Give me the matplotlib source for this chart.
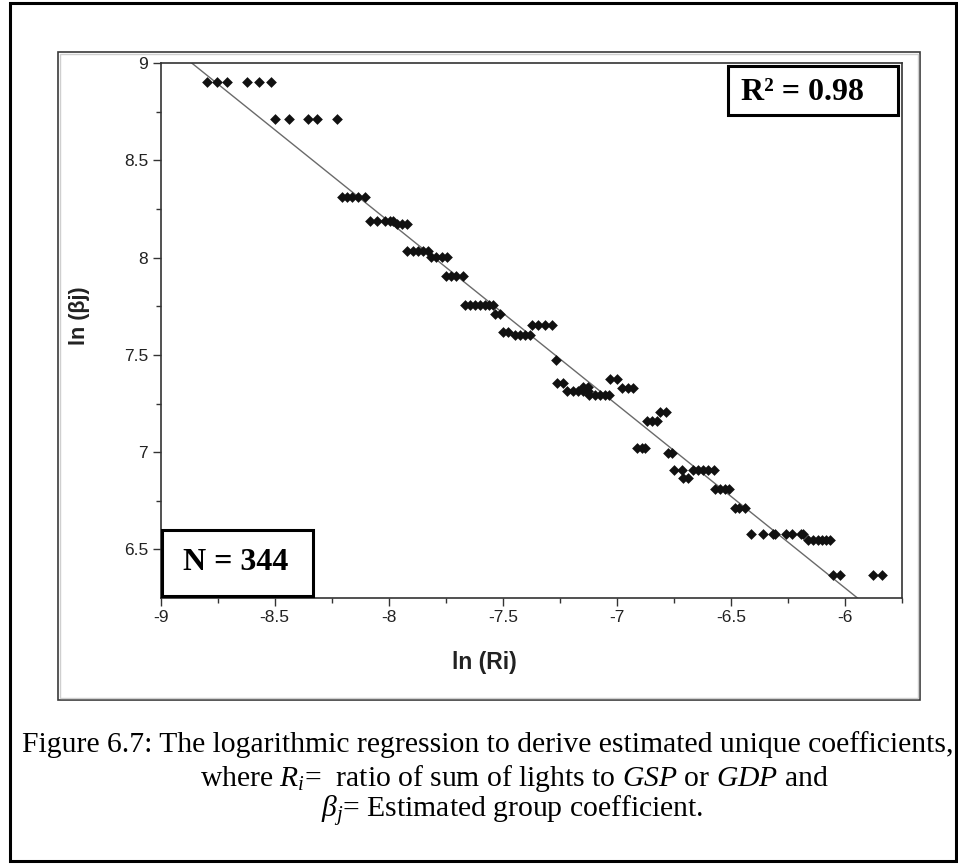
import matplotlib
matplotlib.use("Agg")
import matplotlib.pyplot as plt
from matplotlib.patches import Rectangle
from matplotlib.ticker import MultipleLocator, FuncFormatter

# ln(Ri) / ln(beta_j) points, grouped by beta level
ln_r = [
    -8.796, -8.755, -8.711, -8.623, -8.568, -8.516,          # 8.90
    -8.500, -8.436, -8.353, -8.316, -8.228,                  # 8.71
    -8.207, -8.185, -8.163, -8.134, -8.104,                  # 8.31
    -8.082, -8.053, -8.017, -7.995, -7.980,                  # 8.19
    -7.965, -7.943, -7.921,                                  # 8.175
    -7.919, -7.893, -7.871, -7.849, -7.827,                  # 8.03
    -7.816, -7.793, -7.768, -7.746,                          # 8.00
    -7.751, -7.729, -7.707, -7.673,                          # 7.91
    -7.666, -7.644, -7.622, -7.600, -7.580, -7.560, -7.545,  # 7.76
    -7.534, -7.512,                                          # 7.71
    -7.374, -7.345, -7.315, -7.283,                          # 7.66
    -7.501, -7.476,                                          # 7.62
    -7.447, -7.425, -7.403, -7.381,                          # 7.60
    -7.268,                                                  # 7.47
    -7.261, -7.235,                                          # 7.355
    -7.030, -7.001,                                          # 7.375
    -7.217, -7.191, -7.169, -7.147, -7.125,                  # 7.315
    -7.147, -7.128,                                          # 7.333
    -7.121, -7.096, -7.074, -7.052, -7.033,                  # 7.29
    -6.979, -6.950, -6.928,                                  # 7.33
    -6.810, -6.785,                                          # 7.205
    -6.869, -6.847, -6.825,                                  # 7.16
    -6.913, -6.891, -6.877,                                  # 7.02
    -6.775, -6.760,                                          # 6.995
    -6.750, -6.716, -6.668, -6.643, -6.621, -6.599, -6.573,  # 6.905
    -6.709, -6.687,                                          # 6.87
    -6.570, -6.548, -6.526, -6.507,                          # 6.81
    -6.482, -6.463, -6.438,                                  # 6.71
    -6.413, -6.358, -6.317, -6.307, -6.259, -6.234, -6.193, -6.183,  # 6.58
    -6.161, -6.139, -6.117, -6.102, -6.083, -6.066,          # 6.55
    -6.051, -6.022, -5.879, -5.839,                          # 6.37
]
ln_beta = (
    [8.904] * 6 + [8.712] * 5 + [8.312] * 5 + [8.187] * 5 + [8.175] * 3
    + [8.033] * 5 + [8.004] * 4 + [7.906] * 4 + [7.758] * 7 + [7.709] * 2
    + [7.656] * 4 + [7.618] * 2 + [7.601] * 4 + [7.472] + [7.355] * 2
    + [7.374] * 2 + [7.314] * 5 + [7.333] * 2 + [7.292] * 5 + [7.330] * 3
    + [7.205] * 2 + [7.158] * 3 + [7.021] * 3 + [6.995] * 2 + [6.906] * 7
    + [6.869] * 2 + [6.809] * 4 + [6.711] * 3 + [6.581] * 8 + [6.551] * 6
    + [6.370] * 4
)

# regression line as drawn in the figure
fit_slope = -0.942
fit_intercept = 0.65

x_ticks = [-9, -8.5, -8, -7.5, -7, -6.5, -6]
y_ticks = [6.5, 7, 7.5, 8, 8.5, 9]

W, H = 958, 867
plt.rcParams["axes.unicode_minus"] = False
plt.rcParams["mathtext.fontset"] = "custom"
plt.rcParams["mathtext.rm"] = "Liberation Serif"
plt.rcParams["mathtext.it"] = "Liberation Serif:italic"

fig = plt.figure(figsize=(W / 100, H / 100), dpi=100)


def fx(px):
    return px / W


def fy(py):
    return 1 - py / H


ax = fig.add_axes([fx(160.7), fy(597.5), fx(902) - fx(160.7), fy(63) - fy(597.5)])

ax.scatter(ln_r, ln_beta, marker="D", s=30, c="#111111", linewidths=0, zorder=3)

line_x = [-9.2, -5.6]
ax.plot(line_x, [fit_intercept + fit_slope * v for v in line_x],
        color="#6a6a6a", lw=1.0, zorder=2)

ax.set_xlim(-9, -5.75)
ax.set_ylim(6.253, 9)
ax.set_xticks(x_ticks)
ax.set_yticks(y_ticks)
ax.xaxis.set_minor_locator(MultipleLocator(0.25))
ax.yaxis.set_minor_locator(MultipleLocator(0.25))
fmt = FuncFormatter(lambda v, p: "%g" % v)
ax.xaxis.set_major_formatter(fmt)
ax.yaxis.set_major_formatter(fmt)
ax.tick_params(which="major", direction="out", length=6, width=1.0,
               color="#333333", labelsize=12.5, labelcolor="#222222", pad=3)
ax.tick_params(which="minor", direction="out", length=3.5, width=1.0, color="#333333")
for lab in ax.get_xticklabels() + ax.get_yticklabels():
    lab.set_family("Liberation Sans")
for sp in ax.spines.values():
    sp.set_color("#333333")
    sp.set_linewidth(1.2)

# axis titles
fig.text(fx(484), fy(662), "ln (Ri)", fontsize=16.5, fontweight="bold",
         family="Liberation Sans", ha="center", va="center", color="#222222")
fig.text(fx(80), fy(316), "ln (βj)", fontsize=15.5, fontweight="bold",
         family="Liberation Sans", ha="center", va="center", rotation=90,
         color="#222222")

# annotation boxes
fig.add_artist(Rectangle((fx(728), fy(115)), fx(898) - fx(728), fy(66) - fy(115),
                         transform=fig.transFigure, fill=True, facecolor="white",
                         edgecolor="black", lw=2.2, zorder=5))
fig.text(fx(741), fy(92), "R² = 0.98", fontsize=23, fontweight="bold",
         family="Liberation Serif", ha="left", va="center", zorder=6)
fig.add_artist(Rectangle((fx(162), fy(596)), fx(313) - fx(162), fy(530) - fy(596),
                         transform=fig.transFigure, fill=True, facecolor="white",
                         edgecolor="black", lw=2.2, zorder=5))
fig.text(fx(183), fy(563), "N = 344", fontsize=23, fontweight="bold",
         family="Liberation Serif", ha="left", va="center", zorder=6)

# frames
fig.add_artist(Rectangle((fx(57.7), fy(700)), fx(920) - fx(57.7), fy(52) - fy(700),
                         transform=fig.transFigure, fill=False,
                         edgecolor="#3a3a3a", lw=1.2))
fig.add_artist(Rectangle((fx(60), fy(698)), fx(918) - fx(60), fy(54) - fy(698),
                         transform=fig.transFigure, fill=False,
                         edgecolor="#cfcfcf", lw=1.0))
fig.add_artist(Rectangle((fx(9.5), fy(861)), fx(955.5) - fx(9.5), fy(2.5) - fy(861),
                         transform=fig.transFigure, fill=False,
                         edgecolor="black", lw=2.2))

# caption
cap = dict(fontsize=21.3, family="Liberation Serif", va="baseline", color="black")
fig.text(fx(22), fy(752),
         "Figure 6.7: The logarithmic regression to derive estimated unique coefficients,",
         ha="left", **cap)
fig.text(fx(514), fy(786),
         r"where $R_i$=  ratio of sum of lights to $GSP$ or $GDP$ and",
         ha="center", **cap)
fig.text(fx(512), fy(818), r"$\beta_j$= Estimated group coefficient.",
         ha="center", **cap)

fig.savefig("out.png", dpi=100)
